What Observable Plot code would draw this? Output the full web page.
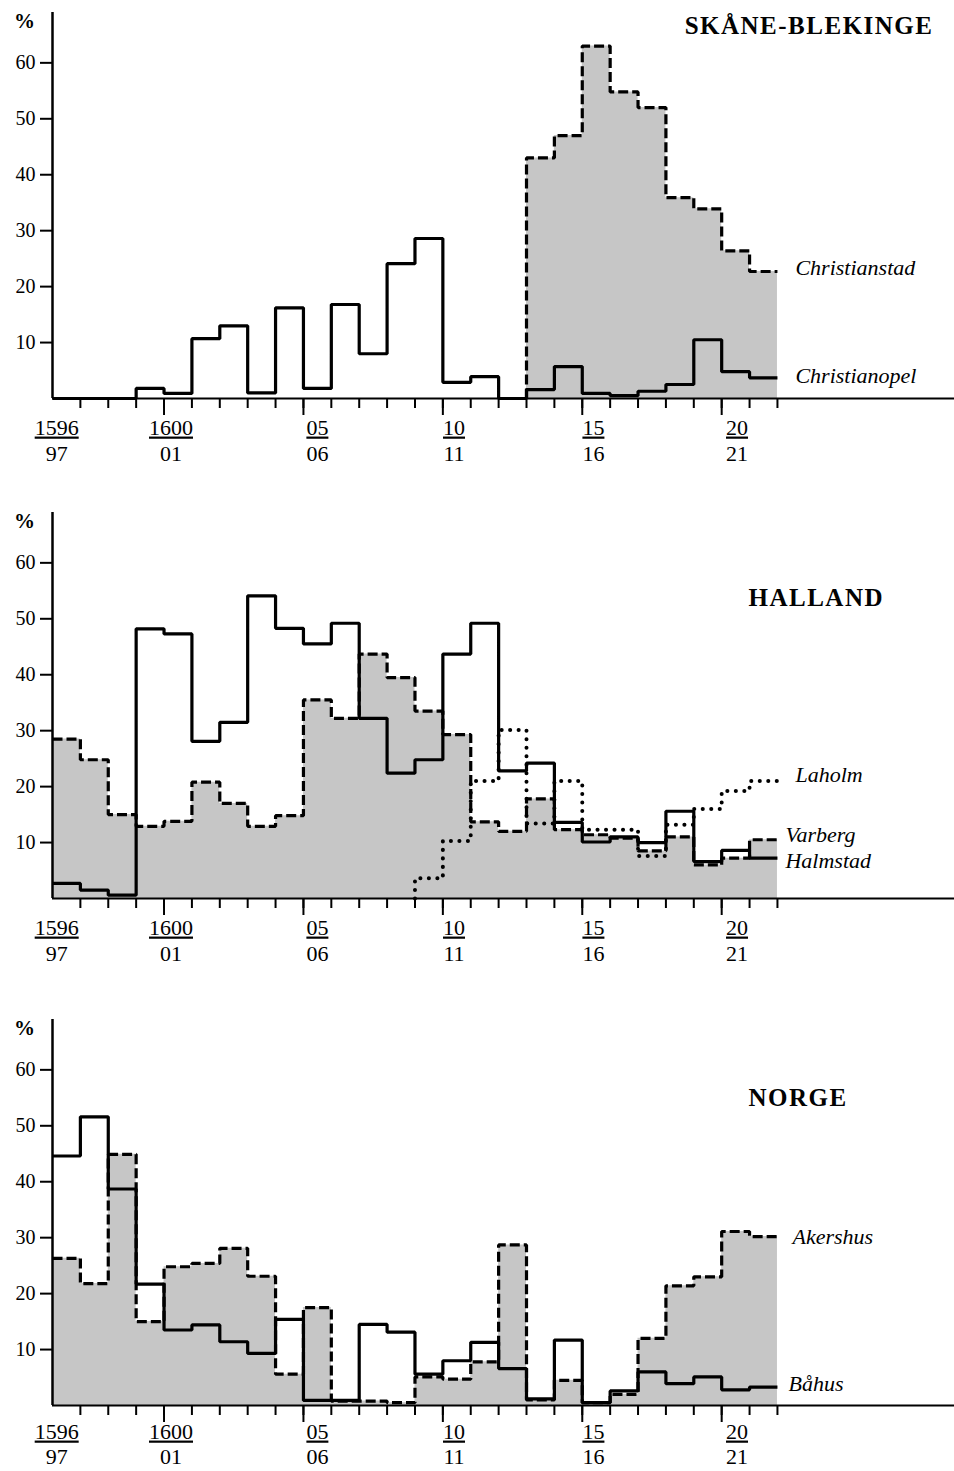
<!DOCTYPE html>
<html>
<head>
<meta charset="utf-8">
<script src="https://cdn.jsdelivr.net/npm/d3@7"></script>
<script src="https://cdn.jsdelivr.net/npm/@observablehq/plot@0.6"></script>
<style>
  html, body { margin: 0; padding: 0; background: #fff; }
  #chart { width: 954px; }
  #chart svg { display: block; }
  g[fill="#010101"] text { text-decoration: underline; text-decoration-thickness: 2px; text-underline-offset: 4px; }
  g[fill="#020202"] text { letter-spacing: 1.5px; }
</style>
</head>
<body>
<div id="chart"></div>
<script>
// ---------- categories / ticks ----------
const years = [1596,1597,1598,1599,1600,1601,1602,1603,1604,1605,1606,1607,1608,1609,1610,1611,1612,1613,1614,1615,1616,1617,1618,1619,1620,1621];
const yTicks = [10, 20, 30, 40, 50, 60];
const minorTicks = [1597,1598,1599,1600,1601,1602,1603,1604,1605,1606,1607,1608,1609,1610,1611,1612,1613,1614,1615,1616,1617,1618,1619,1620,1621,1622];
const majorTicks = [1600, 1605, 1610, 1615, 1620];
const labelYears = [1596, 1600, 1605, 1610, 1615, 1620];
const labelTop = ["1596", "1600", "05", "10", "15", "20"];
const labelBottom = ["97", "01", "06", "11", "16", "21"];

// ---------- SKÅNE-BLEKINGE (%) ----------
const christianopel = [0, 0, 0, 1.8, 0.9, 10.7, 13.0, 1.0, 16.2, 1.8, 16.8, 8.0, 24.1, 28.6, 2.9, 3.9, 0, 1.6, 5.7, 0.9, 0.5, 1.3, 2.5, 10.5, 4.8, 3.7];
const christianstad = [null, null, null, null, null, null, null, null, null, null, null, null, null, null, null, null, null, 43.0, 47.0, 63.0, 54.8, 52.0, 35.9, 33.9, 26.4, 22.7];

// ---------- HALLAND (%) ----------
const laholm = [null, null, null, null, null, null, null, null, null, null, null, null, null, 3.6, 10.3, 21.0, 30.1, 13.4, 21.0, 12.3, 12.3, 7.6, 13.2, 16.0, 19.2, 21.0];
const varberg = [28.5, 24.8, 15.0, 12.9, 13.8, 20.8, 17.0, 12.9, 14.8, 35.5, 32.2, 43.7, 39.5, 33.5, 29.3, 13.7, 12.0, 17.8, 12.3, 11.4, 10.8, 8.5, 11.0, 6.0, 7.2, 10.5];
const halmstad = [2.7, 1.5, 0.6, 48.2, 47.3, 28.1, 31.5, 54.1, 48.3, 45.5, 49.2, 32.2, 22.4, 24.8, 43.7, 49.2, 22.8, 24.2, 13.6, 10.1, 11.0, 10.0, 15.6, 6.6, 8.6, 7.2];

// ---------- NORGE (%) ----------
const akershus = [26.3, 21.8, 44.9, 15.0, 24.8, 25.4, 28.1, 23.1, 5.6, 17.5, 0.8, 0.8, 0.5, 5.1, 4.7, 7.8, 28.7, 1.0, 4.5, 0.5, 2.0, 12.0, 21.4, 23.0, 31.1, 30.2];
const bahus = [44.6, 51.6, 38.7, 21.7, 13.5, 14.4, 11.4, 9.3, 15.4, 0.9, 0.9, 14.5, 13.1, 5.6, 8.0, 11.3, 6.6, 1.2, 11.7, 0.5, 2.6, 6.0, 3.9, 5.1, 2.8, 3.3];

// ---------- styling ----------
const SERIF = "'Liberation Serif', 'DejaVu Serif', 'Times New Roman', serif";
const GRAY = "#c6c6c6";
const STYLES = {
  solid:  {strokeWidth: 3.2, strokeLinecap: "butt"},
  dashed: {strokeWidth: 3.2, strokeDasharray: "10 4", strokeLinecap: "butt"},
  dotted: {strokeWidth: 4, strokeDasharray: "0.1 8.4", strokeLinecap: "round"}
};
const labelNudge = [-0.35, -0.25, 0, -0.1, -0.1, 0.05];

const panels = [
  {
    title: "SKÅNE-BLEKINGE", titleFrame: "top-right", titleAnchor: "end", titleDx: -21, titleDy: 13,
    height: 500, numDy: 29, denDy: 55, fill: christianstad,
    series: [
      {name: "Christianstad", values: christianstad, style: "dashed", ldx: 18, ldy: -4},
      {name: "Christianopel", values: christianopel, style: "solid", ldx: 18, ldy: -2}
    ]
  },
  {
    title: "HALLAND", titleFrame: "top-left", titleAnchor: "start", titleDx: 696, titleDy: 85,
    height: 507, numDy: 29, denDy: 55, fill: varberg,
    series: [
      {name: "Laholm", values: laholm, style: "dotted", ldx: 18, ldy: -6},
      {name: "Varberg", values: varberg, style: "dashed", ldx: 8, ldy: -5},
      {name: "Halmstad", values: halmstad, style: "solid", ldx: 8, ldy: 3}
    ]
  },
  {
    title: "NORGE", titleFrame: "top-left", titleAnchor: "start", titleDx: 696, titleDy: 78,
    height: 464, numDy: 26, denDy: 51, fill: akershus,
    series: [
      {name: "Akershus", values: akershus, style: "dashed", ldx: 15, ldy: 0},
      {name: "Båhus", values: bahus, style: "solid", ldx: 11, ldy: -3}
    ]
  }
];

function stepPoints(values) {
  const pts = [];
  let run = null;
  values.forEach((v, i) => {
    if (v == null) { run = null; return; }
    if (run === null) { run = i; if (i > 0) pts.push({x: years[i], y: 0, run}); }
    pts.push({x: years[i], y: v, run}, {x: years[i] + 1, y: v, run});
  });
  return pts;
}

function panel(cfg) {
  const endYear = years[years.length - 1] + 1;
  const marks = [
    Plot.areaY(stepPoints(cfg.fill), {x: "x", y1: 0, y2: "y", z: "run", fill: GRAY, curve: "linear"}),
    Plot.ruleY([0], {stroke: "black", strokeWidth: 2}),
    Plot.ruleX([years[0]], {stroke: "black", strokeWidth: 2.5}),
    Plot.axisY({ticks: yTicks, tickSize: 12, tickPadding: 5, fontSize: 20, strokeWidth: 2, label: null}),
    Plot.axisX({ticks: minorTicks, tickSize: 10, tickFormat: () => "", strokeWidth: 2, label: null}),
    Plot.axisX({ticks: majorTicks, tickSize: 17, tickFormat: () => "", strokeWidth: 2, label: null}),
    Plot.text(labelTop, {x: (d, i) => labelYears[i] + 0.5 + labelNudge[i], frameAnchor: "bottom", dy: cfg.numDy, lineAnchor: "middle", textAnchor: "middle", fontSize: 22, fill: "#010101"}),
    Plot.text(labelBottom, {x: (d, i) => labelYears[i] + 0.5 + labelNudge[i], frameAnchor: "bottom", dy: cfg.denDy, lineAnchor: "middle", textAnchor: "middle", fontSize: 22, fill: "black"}),
    Plot.text(["%"], {frameAnchor: "top-left", dx: -28, dy: 9, lineAnchor: "middle", textAnchor: "middle", fontSize: 21, fontWeight: "bold", fill: "black"}),
    Plot.text([cfg.title], {frameAnchor: cfg.titleFrame, dx: cfg.titleDx, dy: cfg.titleDy, textAnchor: cfg.titleAnchor, lineAnchor: "middle", fontSize: 25, fontWeight: "bold", fill: "#020202"})
  ];
  cfg.series.forEach(s => {
    marks.push(Plot.line(stepPoints(s.values), {x: "x", y: "y", z: "run", stroke: "black", strokeLinejoin: "miter", curve: "linear", ...STYLES[s.style]}));
  });
  cfg.series.forEach(s => {
    marks.push(Plot.text([s.name], {x: endYear, y: s.values[s.values.length - 1], dx: s.ldx, dy: s.ldy, textAnchor: "start", lineAnchor: "middle", fontStyle: "italic", fontSize: 22, fill: "black"}));
  });
  return Plot.plot({
    width: 954,
    height: cfg.height,
    marginLeft: 52,
    marginRight: 0,
    marginTop: 12,
    marginBottom: cfg.height - 398,
    x: {domain: [1596, 1628.35]},
    y: {domain: [0, 69]},
    style: {fontFamily: SERIF, fontSize: "20px", color: "black", background: "white"},
    marks
  });
}

const root = document.getElementById("chart");
panels.forEach(p => root.appendChild(panel(p)));
</script>
</body>
</html>
